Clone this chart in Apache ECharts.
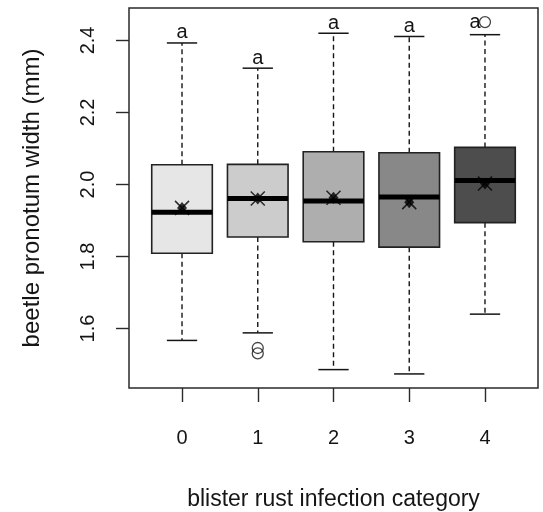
<!DOCTYPE html>
<html><head><meta charset="utf-8">
<script src="https://cdn.jsdelivr.net/npm/echarts@6/dist/echarts.min.js"></script>
<style>html,body{margin:0;padding:0;background:#fff}#c{width:543px;height:512px}</style>
</head><body><div id="c"></div>
<script>
const categories = ['0', '1', '2', '3', '4'];
const lowerWhisker = [1.567, 1.588, 1.486, 1.474, 1.640];
const q1 = [1.809, 1.854, 1.841, 1.826, 1.894];
const medians = [1.923, 1.961, 1.954, 1.965, 2.011];
const q3 = [2.055, 2.056, 2.091, 2.088, 2.103];
const upperWhisker = [2.393, 2.323, 2.420, 2.411, 2.416];
const means = [1.935, 1.961, 1.963, 1.951, 2.003];
const outliers = [[], [1.546, 1.531], [], [], [2.451]];
const letters = ['a', 'a', 'a', 'a', 'a'];
const yTicks = [1.6, 1.8, 2.0, 2.2, 2.4];
const xTitle = 'blister rust infection category';
const yTitle = 'beetle pronotum width (mm)';

const fills = ['#e6e6e6', '#cccccc', '#aeaeae', '#888888', '#4d4d4d'];
const FONT = '"Liberation Sans", Arial, sans-serif';
const INK = '#151515';
const pos = categories.map((c, i) => i + 1);
const allVals = [...lowerWhisker, ...upperWhisker, ...outliers.flat()];
const dMin = Math.min(...allVals), dMax = Math.max(...allVals);
const pad = 0.04 * (dMax - dMin);

const boxData = categories.map((c, i) => [pos[i], lowerWhisker[i], q1[i], medians[i], q3[i], upperWhisker[i], i]);
const meanData = categories.map((c, i) => [pos[i], means[i]]);
const outlierData = [];
outliers.forEach((arr, i) => arr.forEach(v => outlierData.push([pos[i], v])));
const letterData = categories.map((c, i) => [pos[i], upperWhisker[i], i]);

function renderBox(params, api) {
  const x = api.value(0);
  const idx = api.value(6);
  const hw = api.size([0.8, 0])[0] / 2;
  const cx = api.coord([x, api.value(1)])[0];
  const yLw = api.coord([x, api.value(1)])[1];
  const yQ1 = api.coord([x, api.value(2)])[1];
  const yMed = api.coord([x, api.value(3)])[1];
  const yQ3 = api.coord([x, api.value(4)])[1];
  const yUw = api.coord([x, api.value(5)])[1];
  const dash = { stroke: INK, lineWidth: 1.4, lineDash: [5, 3.5], fill: null };
  const solid = { stroke: INK, lineWidth: 1.5, fill: null };
  return {
    type: 'group',
    children: [
      { type: 'line', shape: { x1: cx, y1: yQ3, x2: cx, y2: yUw }, style: dash },
      { type: 'line', shape: { x1: cx, y1: yQ1, x2: cx, y2: yLw }, style: dash },
      { type: 'line', shape: { x1: cx - hw / 2, y1: yUw, x2: cx + hw / 2, y2: yUw }, style: solid },
      { type: 'line', shape: { x1: cx - hw / 2, y1: yLw, x2: cx + hw / 2, y2: yLw }, style: solid },
      { type: 'rect', shape: { x: cx - hw, y: yQ3, width: 2 * hw, height: yQ1 - yQ3 },
        style: { fill: fills[idx], stroke: '#222', lineWidth: 1.6 } },
      { type: 'line', shape: { x1: cx - hw, y1: yMed, x2: cx + hw, y2: yMed },
        style: { stroke: '#000', lineWidth: 5, fill: null } }
    ]
  };
}

function renderLetter(params, api) {
  const x = api.value(0);
  const i = api.value(2);
  const above = outliers[i].filter(v => v > upperWhisker[i]);
  let val = api.value(1), dx = 0, dy = -10;
  if (above.length) { val = Math.max(...above); dx = -10; dy = 0; }
  const p = api.coord([x, val]);
  return {
    type: 'text', x: p[0] + dx, y: p[1] + dy,
    style: { text: letters[i], fill: INK, font: '20px ' + FONT, align: 'center', verticalAlign: 'middle' }
  };
}

const chart = echarts.init(document.getElementById('c'), null, { renderer: 'canvas' });
chart.setOption({
  animation: false,
  backgroundColor: '#fff',
  grid: { left: 129, right: 5, top: 8, bottom: 124, show: true, borderColor: '#2a2a2a', borderWidth: 1.5,
    containLabel: false, outerBoundsMode: 'none' },
  xAxis: {
    type: 'value', min: 0.3, max: 5.7,
    axisLine: { show: false },
    splitLine: { show: false },
    axisTick: { show: true, length: 14, customValues: pos, lineStyle: { color: '#2a2a2a', width: 1.4 } },
    axisLabel: { customValues: pos, formatter: v => categories[Math.round(v) - 1], fontSize: 20,
      fontFamily: FONT, color: INK, margin: 40 },
    name: xTitle, nameLocation: 'middle', nameGap: 100,
    nameTextStyle: { fontSize: 23, fontFamily: FONT, color: INK }
  },
  yAxis: {
    type: 'value', min: dMin - pad, max: dMax + pad,
    axisLine: { show: false },
    splitLine: { show: false },
    axisTick: { show: true, length: 13, customValues: yTicks, lineStyle: { color: '#2a2a2a', width: 1.4 } },
    axisLabel: { customValues: yTicks, formatter: v => v.toFixed(1), rotate: 90, fontSize: 20,
      fontFamily: FONT, color: INK, margin: 31 },
    name: yTitle, nameLocation: 'middle', nameGap: 85, nameRotate: 90,
    nameTextStyle: { fontSize: 24, fontFamily: FONT, color: INK }
  },
  series: [
    { type: 'custom', renderItem: renderBox, data: boxData, encode: { x: 0, y: [1, 2, 3, 4, 5] }, z: 2 },
    { type: 'scatter', data: meanData, symbol: 'diamond', symbolSize: [10, 12],
      itemStyle: { color: '#000' }, z: 3 },
    { type: 'scatter', data: meanData, symbol: 'path://M0 0L10 10M10 0L0 10', symbolSize: 14,
      itemStyle: { color: 'none', borderColor: '#000', borderWidth: 1.5 }, z: 3 },
    { type: 'scatter', data: outlierData, symbol: 'circle', symbolSize: 11,
      itemStyle: { color: 'none', borderColor: INK, borderWidth: 1.3 }, z: 3 },
    { type: 'custom', renderItem: renderLetter, data: letterData, encode: { x: 0, y: 1 }, z: 4 }
  ]
});
</script>
</body></html>
